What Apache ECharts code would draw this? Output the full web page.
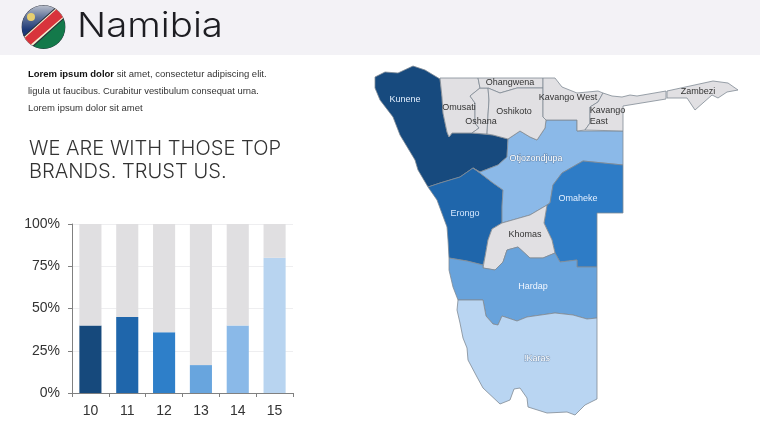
<!DOCTYPE html>
<html><head><meta charset="utf-8">
<style>html,body{margin:0;padding:0;background:#fff}#c{width:760px;height:428px}</style>
<script src="https://cdn.jsdelivr.net/npm/echarts@6/dist/echarts.min.js"></script>
</head><body><div id="c"></div>
<script>
const categories = ['10','11','12','13','14','15'];
const shareValues = [40,45,36,16.5,40,80];
const restValues = [60,55,64,83.5,60,20];
const barColors = ['#16497c','#1f66ab','#2e7fc9','#68a5de','#8ab9e8','#b8d4f0'];
const title = 'Namibia';
const heading = ['WE ARE WITH THOSE TOP','BRANDS. TRUST US.'];
const regionNames = ['Kunene','Erongo','Otjozondjupa','Omaheke','Khomas','Hardap','!Karas','Omusati','Oshana','Ohangwena','Oshikoto','Kavango West','Kavango East','Zambezi'];
const regionColors = ['#174a7e','#1f66ab','#8bb9e8','#2e7cc6','#e1e0e3','#68a3dc','#b9d5f2','#e1e0e3','#e1e0e3','#e1e0e3','#e1e0e3','#e1e0e3','#e1e0e3','#e1e0e3'];
const regionLabelColors = ['#e4f0ff','#d5e8ff','#fff','#e4f0ff','#333','#f2f7ff','#fff','#333','#333','#333','#333','#333','#333','#333'];
const regionLabelAt = [[405,100],[465,214],[536,159],[578,199],[525,235],[533,287],[537,359],[459,108],[481,122],[510,83],[514,112],[568,98],[607.5,116],[698,92]];
const regionOutlines = [
 [[375,77],[385,72],[398,73],[413,66],[425,70],[440,79],[442,97],[443,113],[447,132],[449,137],[452,133],[472,133],[493,135],[508,139],[507,157],[498,165],[480,172],[473,168],[460,177],[440,183],[428,187],[418,170],[415,160],[400,135],[393,117],[380,100],[375,88]],
 [[428,187],[440,183],[460,177],[473,168],[480,173],[493,183],[503,190],[502,207],[502,223],[492,229],[488,240],[485,257],[483,265],[467,261],[449,258],[448,240],[447,227],[437,200]],
 [[508,139],[520,131],[530,137],[537,140],[545,128],[546,120],[577,120],[577,131],[623,131],[623,165],[583,161],[562,173],[553,185],[550,203],[547,205],[530,215],[502,223],[502,207],[503,190],[493,183],[480,173],[473,168],[480,172],[498,165],[507,157]],
 [[583,161],[623,165],[623,213],[597,213],[597,267],[577,267],[577,260],[560,262],[555,253],[552,240],[544,223],[547,205],[550,203],[553,185],[562,173]],
 [[547,205],[530,215],[502,223],[492,229],[488,240],[485,257],[483,268],[495,270],[503,262],[507,250],[518,247],[530,258],[543,258],[555,253],[552,240],[544,223]],
 [[449,258],[467,261],[483,265],[483,268],[495,270],[503,262],[507,250],[518,247],[530,258],[543,258],[555,253],[560,262],[577,260],[577,267],[597,267],[597,318],[587,319],[573,315],[555,313],[527,317],[517,321],[502,316],[498,325],[493,324],[486,316],[483,300],[458,300],[453,287],[449,270]],
 [[458,300],[457,310],[460,323],[463,338],[467,348],[468,360],[477,377],[483,388],[500,404],[510,400],[514,389],[520,388],[527,398],[528,407],[547,413],[567,412],[575,415],[585,405],[597,399],[597,318],[587,319],[573,315],[555,313],[527,317],[517,321],[502,316],[498,325],[493,324],[486,316],[483,300]],
 [[440,78],[478,78],[480,88],[470,96],[475,103],[475,123],[479,128],[472,133],[452,133],[449,137],[447,132],[443,113],[442,97]],
 [[480,88],[488,88],[489,100],[488,115],[487,134],[472,133],[479,128],[475,123],[475,103],[470,96]],
 [[478,78],[543,78],[543,88],[517,88],[500,93],[488,88],[480,88]],
 [[488,88],[500,93],[517,88],[543,88],[543,117],[546,120],[545,128],[537,140],[530,137],[520,131],[508,139],[493,135],[487,134],[488,115],[489,100]],
 [[543,78],[555,78],[562,87],[577,93],[598,91],[603,93],[598,102],[590,107],[590,123],[585,130],[577,131],[577,120],[546,120],[543,117]],
 [[603,93],[612,96],[622,97],[630,95],[637,96],[666,91],[666,99],[623,106],[623,131],[585,130],[590,123],[590,107],[598,102]],
 [[667,91],[713,81],[728,83],[738,90],[727,92],[718,98],[712,95],[695,110],[687,98],[667,98]]
];

const geoJson = {type:'FeatureCollection',features:regionNames.map((n,i)=>({
  type:'Feature',properties:{name:n,cp:regionLabelAt[i]},
  geometry:{type:'Polygon',coordinates:[regionOutlines[i].concat([regionOutlines[i][0]])]}
}))};
echarts.registerMap('namibia',geoJson);
const allPts = regionOutlines.flat();
const xs = allPts.map(p=>p[0]), ys = allPts.map(p=>p[1]);
const minX=Math.min(...xs),maxX=Math.max(...xs),minY=Math.min(...ys),maxY=Math.max(...ys);

// flag helpers: polygon of the part of the circle between two offsets along the flag's diagonal normal
const fc=[43.5,27],fr=21.5,fn=[0.66,0.75];
function band(d1,d2){
  const out=[];
  for(let a=0;a<360;a+=3){
    const x=Math.cos(a*Math.PI/180)*fr,y=Math.sin(a*Math.PI/180)*fr,d=x*fn[0]+y*fn[1];
    if(d>=d1&&d<=d2) out.push([fc[0]+x,fc[1]+y]);
  }
  return out;
}
const poly=(pts,fill,z)=>({type:'polygon',silent:true,z:z||5,shape:{points:pts},style:{fill}});

const chart=echarts.init(document.getElementById('c'),null,{renderer:'canvas'});
chart.setOption({
  animation:false,
  backgroundColor:'#fff',
  textStyle:{fontFamily:'"Liberation Sans",Arial,sans-serif'},
  graphic:[
    {type:'rect',silent:true,z:0,shape:{x:0,y:0,width:760,height:55},style:{fill:'#f3f2f6'}},
    {type:'circle',silent:true,z:4,shape:{cx:fc[0],cy:fc[1],r:fr+0.4},style:{fill:'#2a2f3a'}},
    poly(band(-30,-6),new echarts.graphic.LinearGradient(0,0,0,1,[{offset:0,color:'#b9bfcc'},{offset:.4,color:'#5f7299'},{offset:.8,color:'#1d3a78'}])),
    poly(band(-6,7),'#f5efd0',6),
    poly(band(-5,5.6),'#d8343c',7),
    poly(band(7,30),'#13794a',6),
    {type:'circle',silent:true,z:8,shape:{cx:31,cy:17,r:4},style:{fill:'#e7cf70'}},
    {type:'text',silent:true,z:5,x:77,y:27,scaleX:1.13,style:{text:title,font:'300 34px Inter,"Open Sans",sans-serif',fill:'#1d1d22',textVerticalAlign:'middle'}},
    {type:'text',silent:true,z:5,x:28,y:74,style:{
      text:'{b|Lorem ipsum dolor} sit amet, consectetur adipiscing elit.',
      rich:{b:{fontWeight:'bold',fontSize:9.5,fontFamily:'"Liberation Sans"',fill:'#111',textFill:'#111'}},
      fontSize:9.5,fontFamily:'"Liberation Sans"',fill:'#333',verticalAlign:'middle'}},
    {type:'text',silent:true,z:5,x:28,y:91,style:{text:'ligula ut faucibus. Curabitur vestibulum consequat urna.',font:'9.4px "Liberation Sans"',fill:'#333',textVerticalAlign:'middle'}},
    {type:'text',silent:true,z:5,x:28,y:108,style:{text:'Lorem ipsum dolor sit amet',font:'9.5px "Liberation Sans"',fill:'#333',textVerticalAlign:'middle'}},
    {type:'text',silent:true,z:5,x:29,y:149,scaleX:1.03,style:{text:heading[0],font:'300 19.5px Inter,"Open Sans",sans-serif',fill:'#333',textVerticalAlign:'middle'}},
    {type:'text',silent:true,z:5,x:29,y:172,scaleX:1.03,style:{text:heading[1],font:'300 19.5px Inter,"Open Sans",sans-serif',fill:'#333',textVerticalAlign:'middle'}}
  ],
  grid:{left:72,top:224,width:221,height:169},
  xAxis:{type:'category',data:categories,
    axisLine:{lineStyle:{color:'#808080',width:1}},
    axisTick:{show:true,length:4,alignWithLabel:false,lineStyle:{color:'#808080'}},
    axisLabel:{color:'#333',fontSize:14,margin:11}},
  yAxis:{type:'value',min:0,max:100,interval:25,
    axisLine:{show:true,lineStyle:{color:'#808080',width:1}},
    axisTick:{show:true,length:4,lineStyle:{color:'#808080'}},
    axisLabel:{color:'#333',fontSize:14,margin:12,formatter:'{value}%'},
    splitLine:{lineStyle:{color:'#eeeef0'}}},
  series:[
    {type:'bar',stack:'s',barWidth:'60%',silent:true,data:shareValues.map((v,i)=>({value:v,itemStyle:{color:barColors[i]}}))},
    {type:'bar',stack:'s',barWidth:'60%',silent:true,itemStyle:{color:'#e0dfe1'},data:restValues},
    {type:'map',map:'namibia',silent:true,roam:false,
      projection:{project:p=>[p[0],p[1]],unproject:p=>[p[0],p[1]]},
      left:minX,top:minY,width:maxX-minX,height:maxY-minY,
      itemStyle:{borderColor:'#808a94',borderWidth:0.8},
      label:{show:true,fontSize:9,fontFamily:'"Liberation Sans"',lineHeight:11,
        rich:{l:{align:'left',fontSize:9,lineHeight:11,color:'#333',fontFamily:'"Liberation Sans"'}},
        formatter:p=>p.name==='Kavango East'?'{l|Kavango}\n{l|East}':p.name},
      data:regionNames.map((n,i)=>{
        const halo=(n==='Otjozondjupa'||n==='!Karas');
        return {name:n,value:i,itemStyle:{areaColor:regionColors[i]},
        label:{color:regionLabelColors[i],textBorderColor:halo?'rgba(70,95,130,.5)':'transparent',textBorderWidth:halo?1:0}};
      })}
  ]
});
</script></body></html>
